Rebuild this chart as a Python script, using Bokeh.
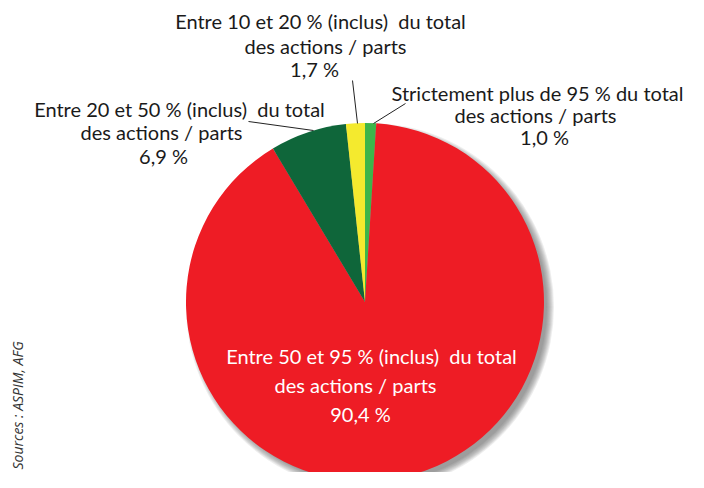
import math
from bokeh.plotting import figure
from bokeh.models import Range1d, ColumnDataSource
from bokeh.core.properties import value
from bokeh.embed import file_html
from bokeh.resources import INLINE

# ---- data (clockwise from 12 o'clock) ----
categories = [
    "Strictement plus de 95 % du total des actions / parts",
    "Entre 50 et 95 % (inclus) du total des actions / parts",
    "Entre 20 et 50 % (inclus) du total des actions / parts",
    "Entre 10 et 20 % (inclus) du total des actions / parts",
]
shares = [1.0, 90.4, 6.9, 1.7]
share_labels = ["1,0 %", "90,4 %", "6,9 %", "1,7 %"]
colors = ["#3DB54A", "#EE1C25", "#0F663A", "#F4EA2E"]
source_note = "Sources : ASPIM, AFG"

# ---- layout (page pixel coords -> data coords) ----
W, H = 688, 472
def Y(py):
    return 488 - py

p = figure(width=W, height=H, x_range=Range1d(0, W), y_range=Range1d(488 - H, 488),
           output_backend="svg", toolbar_location=None, min_border=0)
p.axis.visible = False
p.grid.visible = False
p.outline_line_color = None
p.background_fill_color = "white"

cx, cy, R = 364.5, Y(301.5), 179

# shadow
for k in range(8):
    p.circle(x=cx + 5, y=cy - 5, radius=R + 5 - k, fill_color="#555555",
             fill_alpha=0.10, line_color=None)

total = sum(shares)
starts, ends = [], []
acc = 0.0
for v in shares:
    a0 = math.pi / 2 - 2 * math.pi * acc / total
    acc += v
    a1 = math.pi / 2 - 2 * math.pi * acc / total
    starts.append(a1)
    ends.append(a0)
src = ColumnDataSource(dict(start=starts, end=ends, color=colors, cat=categories))
p.wedge(x=cx, y=cy, radius=R, start_angle="start", end_angle="end",
        fill_color="color", line_color=None, source=src)

font = value("Lato")
fs = "20px"

def lines(texts, xs, ys, color="#1a1a1a"):
    p.text(x=xs, y=[Y(v) for v in ys], text=texts, text_font=font,
           text_font_size=fs, text_color=color, text_align="center",
           text_baseline="middle")

def split(label):
    a, b = label.split(" des ")
    return [a.replace("(inclus) du", "(inclus)\u00a0 du"), "des " + b]

# label: 10-20
lines(split(categories[3]) + [share_labels[3]], [320, 325, 314], [20, 45, 68])
p.line(x=[352, 357], y=[Y(80), Y(123)], line_color="#222222", line_width=1)

# label: >95
lines(split(categories[0]) + [share_labels[0]], [537, 535, 544], [92, 114, 136])
p.line(x=[405, 373], y=[Y(103), Y(123)], line_color="#222222", line_width=1)

# label: 20-50
lines(split(categories[2]) + [share_labels[2]], [179, 161, 163], [108, 131, 155])
p.line(x=[248, 313], y=[Y(121), Y(130)], line_color="#222222", line_width=1)

# label: 50-95 (inside)
lines(split(categories[1]) + [share_labels[1]], [371, 355, 360], [355, 384, 413],
      color="white")

# source note
p.text(x=[17], y=[Y(469)], text=[source_note], angle=math.pi / 2,
       text_font=value("Open Sans"), text_font_size="14px",
       text_font_style="italic", text_color="#333333",
       text_align="left", text_baseline="middle")

open("out.html", "w").write(file_html(p, INLINE))
